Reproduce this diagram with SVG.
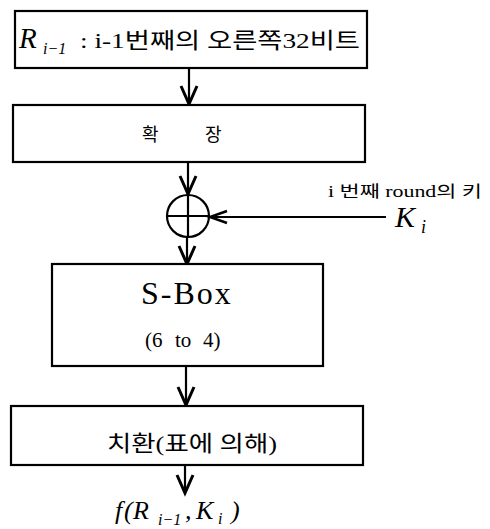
<svg xmlns="http://www.w3.org/2000/svg" width="490" height="529" viewBox="0 0 490 529">
<style>
.box{fill:#fff;stroke:#000;stroke-width:2.2}
.ln{fill:none;stroke:#000;stroke-width:2.2}
.t{font-family:"Liberation Serif","Noto Sans CJK KR",serif;fill:#000}
.it{font-family:"Liberation Serif",serif;font-style:italic;fill:#000}
</style>
<defs>
<marker id="ah" markerUnits="userSpaceOnUse" markerWidth="24" markerHeight="24" viewBox="-20 -12 24 24" refX="0" refY="0" orient="auto">
<path d="M-18,-8 L0,0 L-18,8" fill="none" stroke="#000" stroke-width="3"/>
</marker>
<marker id="ahs" markerUnits="userSpaceOnUse" markerWidth="24" markerHeight="24" viewBox="-20 -12 24 24" refX="0" refY="0" orient="auto">
<path d="M-17,-6 L0,0 L-17,6" fill="none" stroke="#000" stroke-width="2.5"/>
</marker>
</defs>
<rect width="490" height="529" fill="#fff"/>
<g id="connectors">
<line class="ln" x1="189" y1="68" x2="189" y2="104" marker-end="url(#ah)"/>
<line class="ln" x1="188" y1="162" x2="188" y2="194" marker-end="url(#ah)"/>
<line class="ln" x1="187" y1="237" x2="187" y2="264" marker-end="url(#ah)"/>
<line class="ln" x1="386" y1="217" x2="210" y2="217" marker-end="url(#ahs)"/>
<line class="ln" x1="186" y1="367" x2="186" y2="405" marker-end="url(#ah)"/>
<line class="ln" x1="185" y1="465" x2="185" y2="493" marker-end="url(#ah)"/>
</g>
<g id="node-r">
<rect class="box" x="15" y="11" width="352" height="57"/>
<text class="it" x="19" y="48" font-size="29">R</text>
<text class="it" x="43" y="54" font-size="16">i−1</text>
<text class="t" x="80" y="48" font-size="22" textLength="280" lengthAdjust="spacingAndGlyphs">: i-1번째의 오른쪽32비트</text>
</g>
<g id="node-expand">
<rect class="box" x="13" y="105" width="352" height="57"/>
<text class="t" x="142" y="141" font-size="18">확</text>
<text class="t" x="205" y="141" font-size="18">장</text>
</g>
<g id="node-xor">
<circle class="ln" cx="188" cy="216" r="21"/>
<line class="ln" x1="167" y1="216" x2="209" y2="216"/>
<line class="ln" x1="188" y1="195" x2="188" y2="237"/>
</g>
<g id="node-key">
<text class="t" x="328" y="197" font-size="16" textLength="154" lengthAdjust="spacingAndGlyphs">i 번째 round의 키</text>
<text class="it" x="395" y="227" font-size="30">K</text>
<text class="it" x="421" y="233" font-size="18">i</text>
</g>
<g id="node-sbox">
<rect class="box" x="52" y="264" width="271" height="102"/>
<text class="t" x="141" y="304" font-size="32" letter-spacing="2">S-Box</text>
<text class="t" y="347" font-size="21"><tspan x="145">(6</tspan><tspan x="175">to</tspan><tspan x="203">4)</tspan></text>
</g>
<g id="node-perm">
<rect class="box" x="11" y="406" width="352" height="59"/>
<text class="t" x="107" y="451" font-size="22" textLength="170" lengthAdjust="spacingAndGlyphs">치환(표에 의해)</text>
</g>
<g id="node-out">
<text class="it" y="519" font-size="26"><tspan x="115">f</tspan><tspan x="124">(</tspan><tspan x="133">R</tspan></text>
<text class="it" x="158" y="525" font-size="16">i−1</text>
<text class="it" y="519" font-size="26"><tspan x="185">,</tspan><tspan x="196">K</tspan></text>
<text class="it" x="218" y="524" font-size="16">i</text>
<text class="it" x="231" y="519" font-size="26">)</text>
</g>
</svg>
